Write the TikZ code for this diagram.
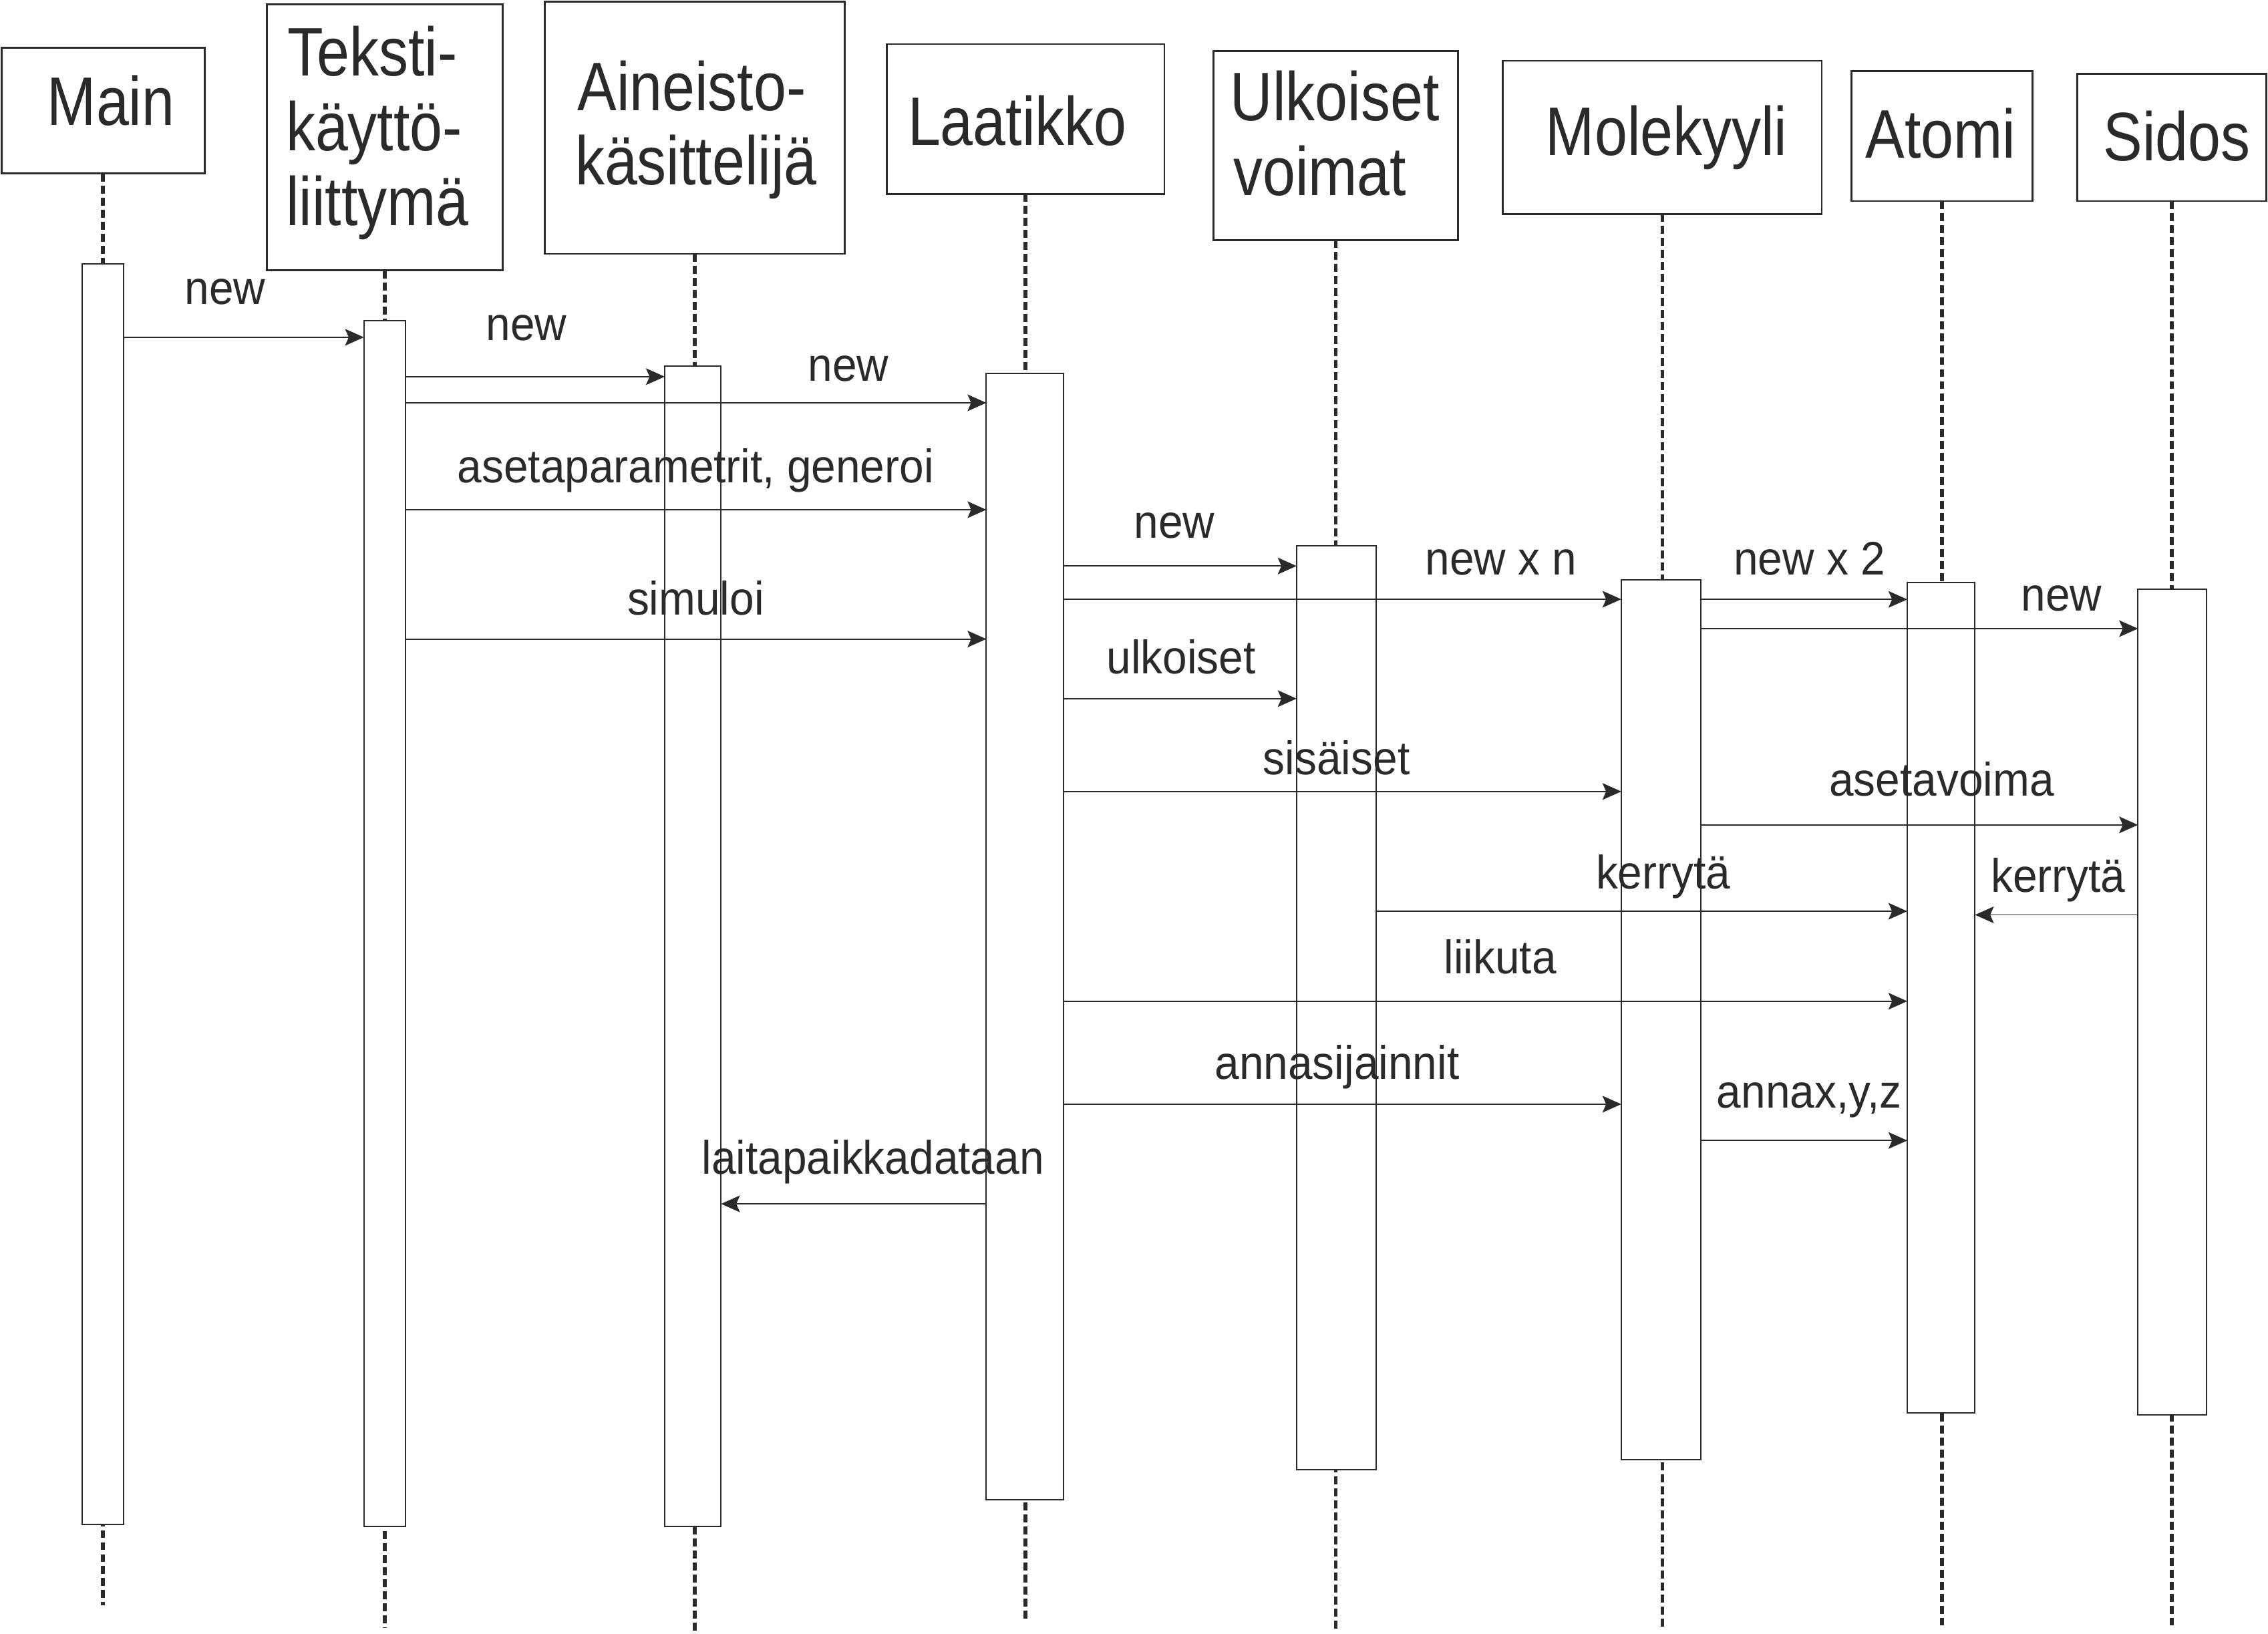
\documentclass[tikz,border=0pt]{standalone}
\usepackage{fontspec}
\setmainfont{Liberation Sans}
\newfontfamily\hdfont{Liberation Sans}[FakeStretch=0.855]
\newfontfamily\lbfont{Liberation Sans}[FakeStretch=0.935]
\usetikzlibrary{arrows.meta}
\definecolor{ink}{RGB}{42,42,42}
\begin{document}
\begin{tikzpicture}[x=1pt,y=1pt,
  hbox/.style={draw=ink, line width=1.3pt, fill=white, inner sep=0pt, outer sep=0pt, anchor=north west},
  actbox/.style={draw=ink, line width=0.9pt, fill=white, inner sep=0pt, outer sep=0pt, anchor=north west},
  life/.style={draw=ink, line width=2.6pt, dash pattern=on 5.5pt off 2.8pt},
  msg/.style={draw=ink, line width=0.9pt, -{Stealth[length=13pt,width=11.5pt,inset=2.5pt]}},
  hdtxt/.style={font=\hdfont\fontsize{47.5}{51.6}\selectfont, text=ink, inner sep=0pt, anchor=base west},
  lbtxt/.style={font=\lbfont\fontsize{32.5}{36}\selectfont, text=ink, inner sep=0pt, anchor=base},
]
\useasboundingbox (0,0) rectangle (1568,-1129.3);

% header boxes
\node[hbox, minimum width=140.5, minimum height=87]    (hMain) at (1,-33) {};
\node[hbox, minimum width=162.8, minimum height=183.9] (hTek)  at (184.6,-3.1) {};
\node[hbox, minimum width=207.5, minimum height=174.5] (hAin)  at (376.5,-1) {};
\node[hbox, minimum width=192,   minimum height=103.5] (hLaa)  at (613,-30.5) {};
\node[hbox, minimum width=169,   minimum height=130.5] (hUlk)  at (839,-35.5) {};
\node[hbox, minimum width=220.5, minimum height=106]   (hMol)  at (1039,-42) {};
\node[hbox, minimum width=125,   minimum height=90]    (hAto)  at (1280,-49) {};
\node[hbox, minimum width=131,   minimum height=88]    (hSid)  at (1436,-51) {};

% header texts
\node[hdtxt] (tMain) at (32.5,-86.6) {Main};
\node[hdtxt] (tTek1) at (198.5,-52.6) {Teksti-};
\node[hdtxt] (tTek2) at (197.5,-104.1) {käyttö-};
\node[hdtxt] (tTek3) at (197.5,-156.1) {liittymä};
\node[hdtxt] (tAin1) at (399,-76.3) {Aineisto-};
\node[hdtxt] (tAin2) at (397.5,-127.8) {käsittelijä};
\node[hdtxt] (tLaa)  at (627.5,-100.6) {Laatikko};
\node[hdtxt] (tUlk1) at (850.5,-83.5) {Ulkoiset};
\node[hdtxt] (tUlk2) at (852.5,-135.1) {voimat};
\node[hdtxt] (tMol)  at (1068.5,-107.2) {Molekyyli};
\node[hdtxt] (tAto)  at (1289.6,-109.3) {Atomi};
\node[hdtxt] (tSid)  at (1454,-111.3) {Sidos};

% lifeline ends
\coordinate (eMain) at (71.2,-1110);
\coordinate (eTek)  at (265.8,-1125.5);
\coordinate (eAin)  at (480.3,-1132);
\coordinate (eLaa)  at (708.5,-1121.5);
\coordinate (eUlk)  at (924,-1126.3);
\coordinate (eMol)  at (1149,-1127);
\coordinate (eAto)  at (1342,-1126);
\coordinate (eSid)  at (1502,-1126);

% lifelines
\draw[life] (hMain.south) -- (hMain.south |- eMain);
\draw[life] (hTek.south)  -- (hTek.south |- eTek);
\draw[life] (hAin.south)  -- (hAin.south |- eAin);
\draw[life] (hLaa.south)  -- (hLaa.south |- eLaa);
\draw[life] (hUlk.south)  -- (hUlk.south |- eUlk);
\draw[life] (hMol.south)  -- (hMol.south |- eMol);
\draw[life] (hAto.south)  -- (hAto.south |- eAto);
\draw[life] (hSid.south)  -- (hSid.south |- eSid);

% activation boxes
\node[actbox, minimum width=28.7, minimum height=871.7] (aMain) at (56.7,-182.3) {};
\node[actbox, minimum width=28.6, minimum height=833.7] (aTek)  at (251.6,-221.5) {};
\node[actbox, minimum width=38.9, minimum height=801.9] (aAin)  at (459.6,-253.3) {};
\node[actbox, minimum width=53.5, minimum height=778.8] (aLaa)  at (681.9,-258.1) {};
\node[actbox, minimum width=55,   minimum height=638.8] (aUlk)  at (896.4,-377.4) {};
\node[actbox, minimum width=54.8, minimum height=608.4] (aMol)  at (1120.9,-400.7) {};
\node[actbox, minimum width=46.8, minimum height=574.2] (aAto)  at (1318.6,-402.8) {};
\node[actbox, minimum width=47.3, minimum height=571]   (aSid)  at (1478.1,-407.3) {};

% messages
\draw[msg] (aMain.east |- 0,-233.2) -- (aTek.west |- 0,-233.2);
\draw[msg] (aTek.east |- 0,-260.4)  -- (aAin.west |- 0,-260.4);
\draw[msg] (aTek.east |- 0,-278.5)  -- (aLaa.west |- 0,-278.5);
\draw[msg] (aTek.east |- 0,-352.4)  -- (aLaa.west |- 0,-352.4);
\draw[msg] (aTek.east |- 0,-441.8)  -- (aLaa.west |- 0,-441.8);
\draw[msg] (aLaa.east |- 0,-391.3)  -- (aUlk.west |- 0,-391.3);
\draw[msg] (aLaa.east |- 0,-414.3)  -- (aMol.west |- 0,-414.3);
\draw[msg] (aLaa.east |- 0,-483.0)  -- (aUlk.west |- 0,-483.0);
\draw[msg] (aLaa.east |- 0,-547.2)  -- (aMol.west |- 0,-547.2);
\draw[msg] (aUlk.east |- 0,-630.0)  -- (aAto.west |- 0,-630.0);
\draw[msg] (aLaa.east |- 0,-692.2)  -- (aAto.west |- 0,-692.2);
\draw[msg] (aLaa.east |- 0,-763.4)  -- (aMol.west |- 0,-763.4);
\draw[msg] (aMol.east |- 0,-414.4)  -- (aAto.west |- 0,-414.4);
\draw[msg] (aMol.east |- 0,-434.6)  -- (aSid.west |- 0,-434.6);
\draw[msg] (aMol.east |- 0,-570.3)  -- (aSid.west |- 0,-570.3);
\draw[msg] (aSid.west |- 0,-632.5)  -- (aAto.east |- 0,-632.5);
\draw[msg] (aMol.east |- 0,-788.5)  -- (aAto.west |- 0,-788.5);
\draw[msg] (aLaa.west |- 0,-832.3)  -- (aAin.east |- 0,-832.3);

% message labels
\node[lbtxt] (l1)  at (155.6,-210.3) {new};
\node[lbtxt] (l2)  at (364,-235.4)   {new};
\node[lbtxt] (l3)  at (586.5,-263.6) {new};
\node[lbtxt] (l4)  at (480.9,-333.6) {asetaparametrit, generoi};
\node[lbtxt] (l5)  at (481,-425)     {simuloi};
\node[lbtxt] (l6)  at (812,-371.9)   {new};
\node[lbtxt] (l7)  at (1037.7,-397.2){new x n};
\node[lbtxt] (l8)  at (816.6,-465.9) {ulkoiset};
\node[lbtxt] (l9)  at (924,-535.5)   {sisäiset};
\node[lbtxt] (l10) at (1149.8,-614.3){kerrytä};
\node[lbtxt] (l11) at (1037.1,-673.2){liikuta};
\node[lbtxt] (l12) at (924.4,-746.1) {annasijainnit};
\node[lbtxt] (l13) at (1251,-397.6)  {new x 2};
\node[lbtxt] (l14) at (1425.2,-422.5){new};
\node[lbtxt] (l15) at (1342.4,-550.5){asetavoima};
\node[lbtxt] (l16) at (1422.8,-617)  {kerrytä};
\node[lbtxt] (l17) at (1250.8,-766)  {annax,y,z};
\node[lbtxt] (l18) at (603.5,-811.5) {laitapaikkadataan};
\end{tikzpicture}
\end{document}
